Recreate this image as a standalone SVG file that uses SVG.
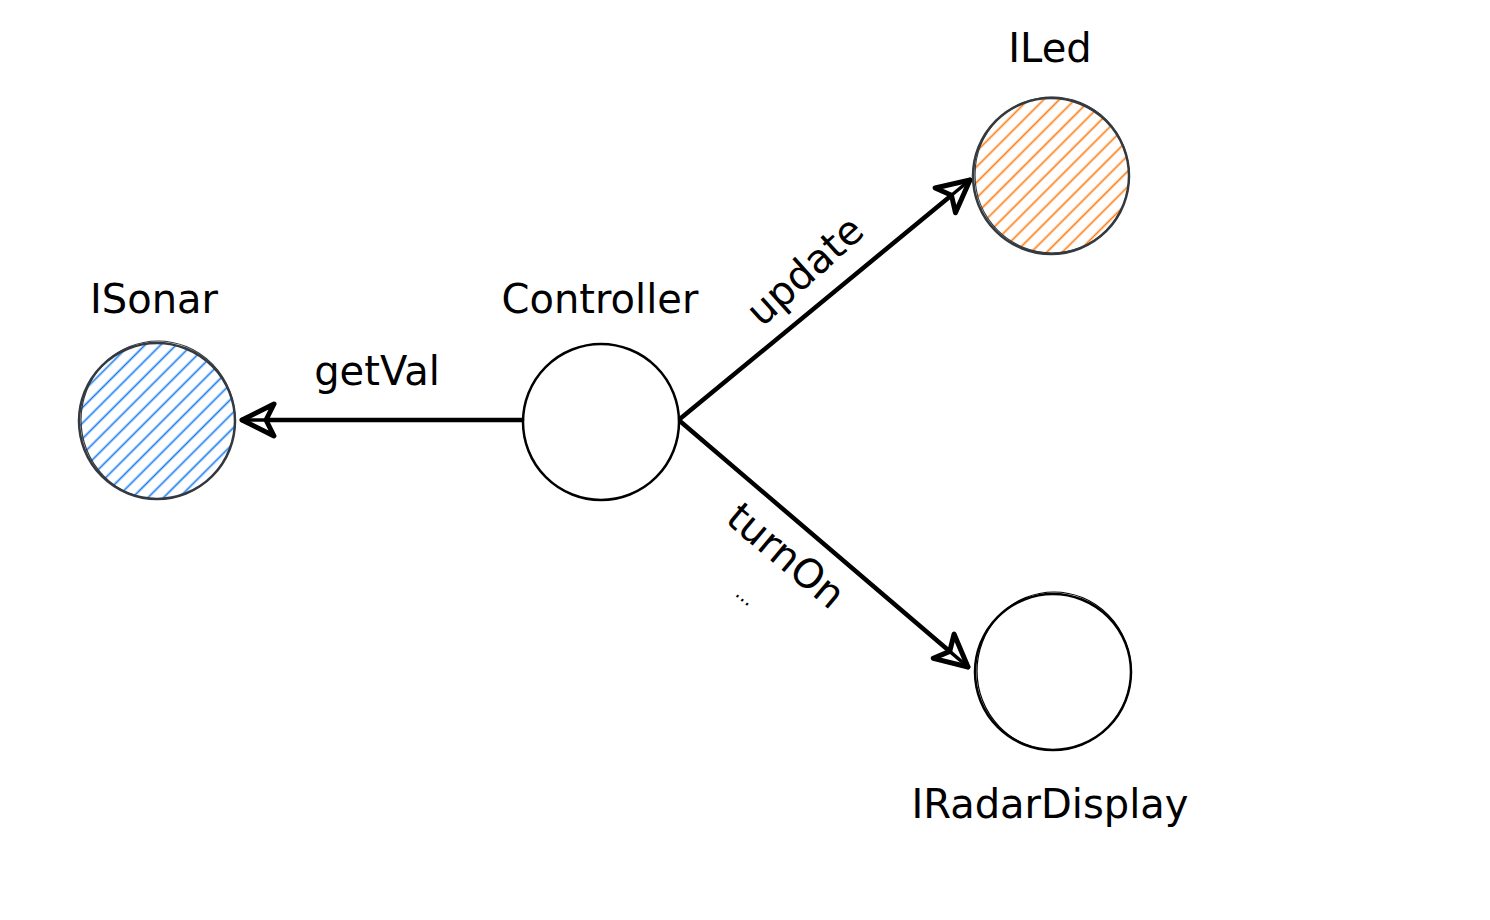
<svg xmlns="http://www.w3.org/2000/svg" width="1490" height="920" viewBox="0 0 1490 920">
  <style>
    .lbl { font-family: "DejaVu Sans", "Liberation Sans", sans-serif; font-size: 40px; fill: #000; text-anchor: middle; }
    .small { font-family: "DejaVu Sans", "Liberation Sans", sans-serif; font-size: 20px; fill: #000; text-anchor: middle; }
    .outline { fill: none; stroke-width: 2.5; }
    .outline2 { fill: none; stroke-width: 1.2; }
    .conn { stroke: #000; stroke-width: 4.5; fill: none; stroke-linecap: round; }
  </style>
  <defs>
    <pattern id="hatchBlue" patternUnits="userSpaceOnUse" width="11" height="11" patternTransform="rotate(45)">
      <line x1="5.5" y1="0" x2="5.5" y2="11" stroke="#1c7ef0" stroke-width="1.7"/>
    </pattern>
    <pattern id="hatchOrange" patternUnits="userSpaceOnUse" width="11" height="11" patternTransform="rotate(45)">
      <line x1="5.5" y1="0" x2="5.5" y2="11" stroke="#fd7e14" stroke-width="1.7"/>
    </pattern>
    <marker id="head" markerUnits="userSpaceOnUse" markerWidth="44" markerHeight="44" refX="36" refY="18" orient="auto" overflow="visible">
      <path d="M36,18 L4,2 L12,18 L4,34 Z" fill="#fff" stroke="#000" stroke-width="5" stroke-linejoin="round"/>
      <path d="M12,18 L36,18" stroke="#000" stroke-width="3.5"/>
    </marker>
  </defs>
  <rect width="1490" height="920" fill="#fff"/>

  <g id="connectors">
    <line class="conn" x1="522" y1="420" x2="242" y2="420" marker-end="url(#head)"/>
    <line class="conn" x1="681" y1="418" x2="970" y2="180" marker-end="url(#head)"/>
    <line class="conn" x1="681" y1="422" x2="968" y2="667" marker-end="url(#head)"/>
    <text class="lbl" x="377" y="385">getVal</text>
    <g transform="translate(806,272) rotate(-42)">
      <text class="lbl" x="0" y="12">update</text>
    </g>
    <g transform="translate(785,557) rotate(40)">
      <text class="lbl" x="0" y="12">turnOn</text>
    </g>
    <g transform="translate(744,598) rotate(40)">
      <text class="small" x="0" y="4">...</text>
    </g>
  </g>

  <g id="node-isonar">
    <circle cx="157" cy="421" r="78" fill="url(#hatchBlue)" stroke="none"/>
    <circle class="outline" cx="157" cy="421" r="78" stroke="#343a40"/>
    <ellipse class="outline2" cx="158" cy="420" rx="77" ry="79" stroke="#343a40"/>
    <text class="lbl" x="154" y="313">ISonar</text>
  </g>

  <g id="node-controller">
    <circle class="outline" cx="601" cy="422" r="78" stroke="#000"/>
    <text class="lbl" x="600" y="313">Controller</text>
  </g>

  <g id="node-iled">
    <circle cx="1051" cy="176" r="78" fill="url(#hatchOrange)" stroke="none"/>
    <circle class="outline" cx="1051" cy="176" r="78" stroke="#343a40"/>
    <ellipse class="outline2" cx="1052" cy="175" rx="77" ry="78" stroke="#343a40"/>
    <text class="lbl" x="1050" y="62">ILed</text>
  </g>

  <g id="node-iradardisplay">
    <circle class="outline" cx="1053" cy="672" r="78" stroke="#000"/>
    <ellipse class="outline2" cx="1054" cy="671" rx="77" ry="79" stroke="#000"/>
    <text class="lbl" x="1050" y="818">IRadarDisplay</text>
  </g>
</svg>
